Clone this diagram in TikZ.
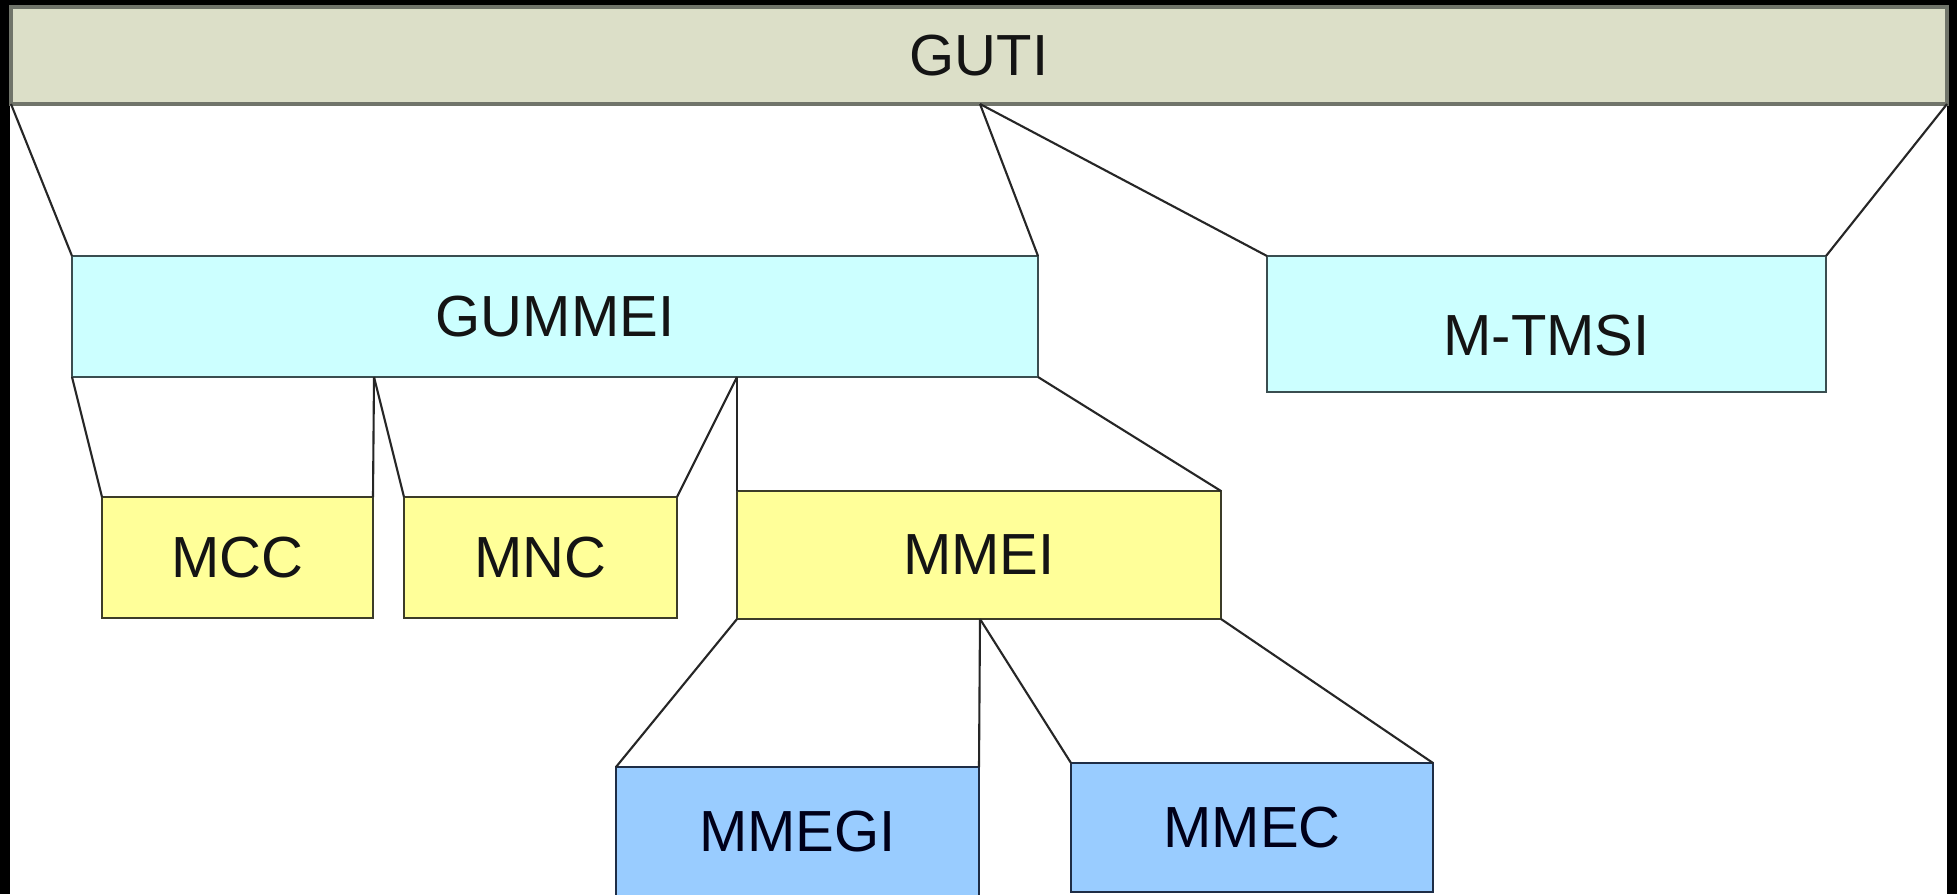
\documentclass[tikz,border=0pt]{standalone}
\usepackage{fontspec}
\setmainfont{Liberation Sans}
\usetikzlibrary{calc}

% fills and outlines of the three levels of identifiers
\definecolor{gutiFill}{HTML}{DCDFC8}
\definecolor{gutiLine}{HTML}{70746A}
\definecolor{cyanFill}{HTML}{CCFFFF}
\definecolor{cyanLine}{HTML}{3A4E50}
\definecolor{yellowFill}{HTML}{FFFF99}
\definecolor{yellowLine}{HTML}{3C3C28}
\definecolor{blueFill}{HTML}{99CCFF}
\definecolor{blueLine}{HTML}{1E2D46}
\definecolor{linkLine}{HTML}{262626}
\definecolor{labelText}{HTML}{141414}

\tikzset{
  field/.style={rectangle, draw, anchor=north west, inner sep=0pt, outer sep=0pt,
    line width=0.8pt, text=labelText,
    font=\fontsize{16.5}{20}\selectfont},
  gutibox/.style={field, fill=gutiFill, draw=gutiLine, line width=1.1pt},
  cyanbox/.style={field, fill=cyanFill, draw=cyanLine},
  yellowbox/.style={field, fill=yellowFill, draw=yellowLine},
  bluebox/.style={field, fill=blueFill, draw=blueLine, text=black!90!blue},
  lowtext/.style={text height=0.62cm, text depth=0pt},
  link/.style={draw=linkLine, line width=0.6pt},
}

\begin{document}
\begin{tikzpicture}
  \useasboundingbox (0,0) rectangle (19.57,-8.94);
  \clip (0,0) rectangle (19.57,-8.94);
  % frame and white canvas
  \fill[black] (0,0) rectangle (19.57,-8.94);
  \fill[white] (0.10,-0.05) rectangle (19.47,-9.10);

  % top level
  \node[gutibox, minimum width=19.36cm, minimum height=0.97cm] (guti) at (0.11,-0.07) {GUTI};

  % second level
  \node[cyanbox, minimum width=9.66cm, minimum height=1.21cm] (gummei) at (0.72,-2.56) {GUMMEI};
  \node[cyanbox, lowtext, minimum width=5.59cm, minimum height=1.36cm] (mtmsi) at (12.67,-2.56) {M-TMSI};

  % third level
  \node[yellowbox, minimum width=2.71cm, minimum height=1.21cm] (mcc) at (1.02,-4.97) {MCC};
  \node[yellowbox, minimum width=2.73cm, minimum height=1.21cm] (mnc) at (4.04,-4.97) {MNC};
  \node[yellowbox, minimum width=4.84cm, minimum height=1.28cm] (mmei) at (7.37,-4.91) {MMEI};

  % fourth level
  \node[bluebox, minimum width=3.63cm, minimum height=1.29cm] (mmegi) at (6.16,-7.67) {MMEGI};
  \node[bluebox, minimum width=3.62cm, minimum height=1.29cm] (mmec) at (10.71,-7.63) {MMEC};

  % split points on the lower edges
  \coordinate (gutiSplit) at (9.80,-1.04);
  \coordinate (gummeiSplitA) at (3.74,-3.77);
  \coordinate (gummeiSplitB) at (7.37,-3.77);
  \coordinate (mmeiSplit) at (9.80,-6.19);

  % GUTI = GUMMEI + M-TMSI
  \draw[link] (guti.south west) -- (gummei.north west);
  \draw[link] (gutiSplit) -- (gummei.north east);
  \draw[link] (gutiSplit) -- (mtmsi.north west);
  \draw[link] (guti.south east) -- (mtmsi.north east);

  % GUMMEI = MCC + MNC + MMEI
  \draw[link] (gummei.south west) -- (mcc.north west);
  \draw[link] (gummeiSplitA) -- (mcc.north east);
  \draw[link] (gummeiSplitA) -- (mnc.north west);
  \draw[link] (gummeiSplitB) -- (mnc.north east);
  \draw[link] (gummeiSplitB) -- (mmei.north west);
  \draw[link] (gummei.south east) -- (mmei.north east);

  % MMEI = MMEGI + MMEC
  \draw[link] (mmei.south west) -- (mmegi.north west);
  \draw[link] (mmeiSplit) -- (mmegi.north east);
  \draw[link] (mmeiSplit) -- (mmec.north west);
  \draw[link] (mmei.south east) -- (mmec.north east);
\end{tikzpicture}
\end{document}
